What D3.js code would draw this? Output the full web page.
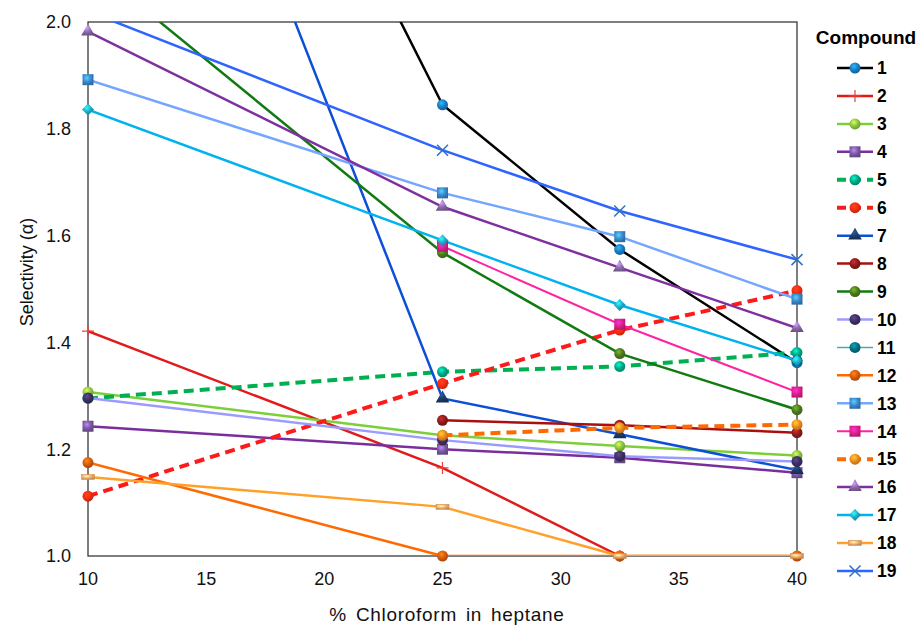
<!DOCTYPE html>
<html>
<head>
<meta charset="utf-8">
<script src="https://cdn.jsdelivr.net/npm/d3@7"></script>
<style>
  body { margin: 0; background: #fff; }
  svg { font-family: Arial, "Liberation Sans", sans-serif; }
</style>
</head>
<body>
<script>
// % chloroform in heptane
const xValues = [10, 25, 32.5, 40];
const xTicks = [10, 15, 20, 25, 30, 35, 40];
const yTicks = [1.0, 1.2, 1.4, 1.6, 1.8, 2.0];
const compounds = ['1','2','3','4','5','6','7','8','9','10','11','12','13','14','15','16','17','18','19'];

// selectivity per compound at each xValue (null = not measured)
const c1  = [3.16, 1.845, 1.574, 1.362];
const c2  = [1.421, 1.165, 1.0, null];
const c3  = [1.307, 1.226, 1.206, 1.188];
const c4  = [1.243, 1.200, 1.184, 1.156];
const c5  = [1.295, 1.345, 1.355, 1.381];
const c6  = [1.112, 1.323, 1.423, 1.497];
const c7  = [2.99, 1.295, 1.228, 1.161];
const c8  = [null, 1.254, 1.245, 1.231];
const c9  = [2.11, 1.568, 1.379, 1.274];
const c10 = [1.296, 1.217, 1.187, 1.177];
const c11 = [null, null, null, 1.366];
const c12 = [1.175, 1.0, 1.0, 1.0];
const c13 = [1.892, 1.680, 1.598, 1.481];
const c14 = [null, 1.580, 1.434, 1.307];
const c15 = [null, 1.226, 1.240, 1.246];
const c16 = [1.982, 1.654, 1.540, 1.427];
const c17 = [1.836, 1.591, 1.470, 1.366];
const c18 = [1.148, 1.092, 1.0, 1.0];
const c19 = [2.02, 1.760, 1.646, 1.555];
const seriesValues = [c1,c2,c3,c4,c5,c6,c7,c8,c9,c10,c11,c12,c13,c14,c15,c16,c17,c18,c19];

// line colour, marker colour, marker shape, dashed, line width
const styles = [
  {line:'#000000', mk:'#1a7cc4', shape:'circle'},
  {line:'#e21a1a', mk:'#e8403a', shape:'plus'},
  {line:'#7ccf3a', mk:'#8cc63f', shape:'circle'},
  {line:'#7a2e9e', mk:'#7d5aa6', shape:'square'},
  {line:'#00b050', mk:'#00a987', shape:'circle', dash:true},
  {line:'#ff1a1a', mk:'#f52d10', shape:'circle', dash:true},
  {line:'#0d4fd6', mk:'#1c3c6a', shape:'triangle'},
  {line:'#a80f0f', mk:'#8c1c1c', shape:'circle'},
  {line:'#127a12', mk:'#4d7a1c', shape:'circle'},
  {line:'#9b9bff', mk:'#3e2f62', shape:'circle'},
  {line:'#56a6ae', mk:'#00707f', shape:'circle', w:1.5},
  {line:'#ff6a00', mk:'#d95a0c', shape:'circle'},
  {line:'#74a6ff', mk:'#3a8ad0', shape:'square'},
  {line:'#ff22a2', mk:'#e0208e', shape:'square', w:2},
  {line:'#ff6a00', mk:'#ef8a1e', shape:'circle', dash:true},
  {line:'#7f2f9f', mk:'#8a6aaa', shape:'triangle'},
  {line:'#00b2ee', mk:'#1ea6c6', shape:'diamond'},
  {line:'#ffa028', mk:'#f2b070', shape:'bar'},
  {line:'#2f64ff', mk:'#3070c0', shape:'x'}
];

const width = 919, height = 626;
const margin = {left: 88, right: 122, top: 22, bottom: 70};

const svg = d3.select('body').append('svg').attr('width', width).attr('height', height);
const defs = svg.append('defs');

const x = d3.scaleLinear().domain([10, 40]).range([margin.left, width - margin.right]);
const y = d3.scaleLinear().domain([1.0, 2.0]).range([height - margin.bottom, margin.top]);

defs.append('clipPath').attr('id', 'plot-clip')
  .append('rect')
  .attr('x', x(10)).attr('y', y(2.0))
  .attr('width', x(40) - x(10)).attr('height', y(1.0) - y(2.0));

// shaded fills so the markers look like the Excel spheres
styles.forEach((s, i) => {
  const g = defs.append('radialGradient').attr('id', 'mk' + i)
    .attr('cx', '40%').attr('cy', '35%').attr('r', '65%');
  g.append('stop').attr('offset', '0%').attr('stop-color', d3.color(s.mk).brighter(1.2));
  g.append('stop').attr('offset', '55%').attr('stop-color', s.mk);
  g.append('stop').attr('offset', '100%').attr('stop-color', d3.color(s.mk).darker(0.7));
});

function drawMarker(sel, s, i) {
  const fill = `url(#mk${i})`;
  if (s.shape === 'circle') {
    sel.append('circle').attr('r', 5.5).attr('fill', fill);
  } else if (s.shape === 'square') {
    sel.append('rect').attr('x', -5.5).attr('y', -5.5).attr('width', 11).attr('height', 11).attr('fill', fill);
  } else if (s.shape === 'triangle') {
    sel.append('path').attr('d', d3.symbol(d3.symbolTriangle, 80)()).attr('fill', fill);
  } else if (s.shape === 'diamond') {
    sel.append('path').attr('d', 'M0,-6L6,0L0,6L-6,0Z').attr('fill', fill);
  } else if (s.shape === 'plus') {
    sel.append('path').attr('d', 'M-6,0H6M0,-6V6').attr('stroke', s.mk).attr('stroke-width', 1.2);
  } else if (s.shape === 'x') {
    sel.append('path').attr('d', 'M-5.5,-5.5L5.5,5.5M-5.5,5.5L5.5,-5.5').attr('stroke', s.mk).attr('stroke-width', 1.5);
  } else if (s.shape === 'bar') {
    sel.append('rect').attr('x', -6.5).attr('y', -2.5).attr('width', 13).attr('height', 5)
      .attr('fill', fill).attr('stroke', '#d99050').attr('stroke-width', 0.6);
  }
}

// frame
svg.append('rect')
  .attr('x', x(10)).attr('y', y(2.0))
  .attr('width', x(40) - x(10)).attr('height', y(1.0) - y(2.0))
  .attr('fill', 'none').attr('stroke', '#3a3a3a').attr('stroke-width', 1.3);

// lines
const lineGen = d3.line()
  .defined(d => d[1] != null)
  .x(d => x(d[0])).y(d => y(d[1]));

const lines = svg.append('g').attr('clip-path', 'url(#plot-clip)');
seriesValues.forEach((vals, i) => {
  const s = styles[i];
  lines.append('path')
    .datum(xValues.map((xv, j) => [xv, vals[j]]))
    .attr('d', lineGen)
    .attr('fill', 'none')
    .attr('stroke', s.line)
    .attr('stroke-width', s.dash ? 4 : (s.w || 2.5))
    .attr('stroke-dasharray', s.dash ? '10,6' : null);
});

// markers
seriesValues.forEach((vals, i) => {
  const s = styles[i];
  xValues.forEach((xv, j) => {
    const v = vals[j];
    if (v == null || v > 2.0) return;
    const g = svg.append('g').attr('transform', `translate(${x(xv)},${y(v)})`);
    drawMarker(g, s, i);
  });
});

// axes tick labels
svg.append('g').selectAll('text')
  .data(yTicks).enter().append('text')
  .attr('x', x(10) - 17).attr('y', d => y(d))
  .attr('dy', '0.35em')
  .attr('text-anchor', 'end')
  .attr('font-size', 18).attr('fill', '#111')
  .text(d => d.toFixed(1));

svg.append('g').selectAll('text')
  .data(xTicks).enter().append('text')
  .attr('x', d => x(d)).attr('y', y(1.0) + 29)
  .attr('text-anchor', 'middle')
  .attr('font-size', 18).attr('fill', '#111')
  .text(d => d);

svg.append('text')
  .attr('x', 447).attr('y', 621)
  .attr('text-anchor', 'middle')
  .attr('font-size', 19).attr('fill', '#111')
  .attr('letter-spacing', 0.7)
  .attr('word-spacing', 3)
  .text('% Chloroform in heptane');

svg.append('text')
  .attr('transform', 'translate(33,272) rotate(-90)')
  .attr('text-anchor', 'middle')
  .attr('font-size', 18).attr('fill', '#111')
  .text('Selectivity (α)');

// legend
const legend = svg.append('g');
legend.append('text')
  .attr('x', 866).attr('y', 44)
  .attr('text-anchor', 'middle')
  .attr('font-size', 19).attr('font-weight', 'bold')
  .text('Compound');

compounds.forEach((name, i) => {
  const s = styles[i];
  const cy = 68 + i * 27.94;
  const row = legend.append('g').attr('transform', `translate(0,${cy})`);
  row.append('line')
    .attr('x1', 837).attr('x2', 873)
    .attr('stroke', s.line)
    .attr('stroke-width', s.dash ? 4 : (s.w || 2.5))
    .attr('stroke-dasharray', s.dash ? '9,6' : null);
  const m = row.append('g').attr('transform', 'translate(855,0)');
  drawMarker(m, s, i);
  row.append('text')
    .attr('x', 877).attr('y', 0).attr('dy', '0.36em')
    .attr('font-size', 17.5).attr('font-weight', 'bold')
    .text(name);
});
</script>
</body>
</html>
